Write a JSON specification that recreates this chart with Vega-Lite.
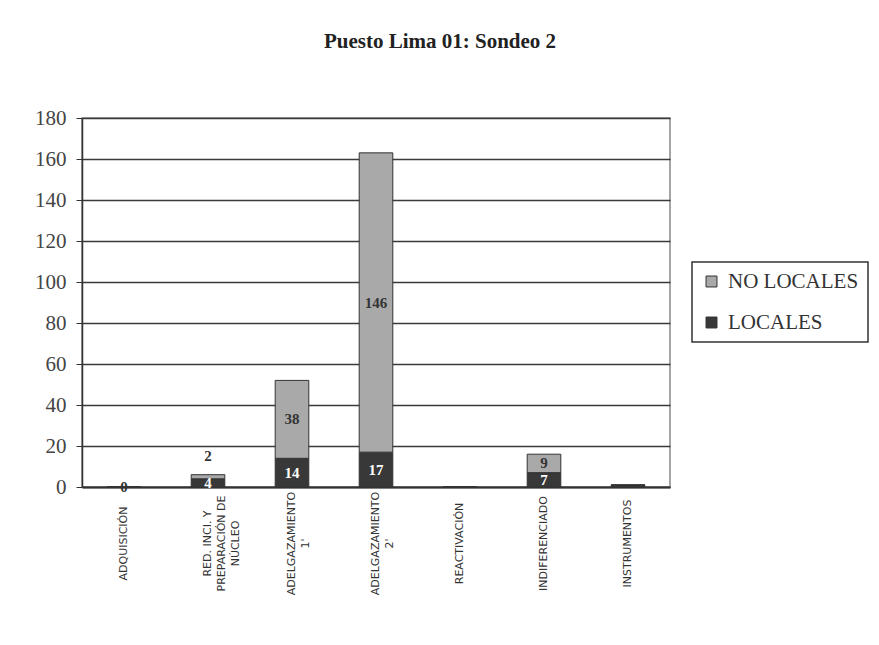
{
  "$schema": "https://vega.github.io/schema/vega-lite/v6.json",
  "autosize": "none",
  "width": 588,
  "height": 369,
  "padding": {"left": 82, "top": 118, "right": 209, "bottom": 158},
  "background": "white",
  "title": {
    "text": "Puesto Lima 01: Sondeo 2",
    "font": "Liberation Serif",
    "fontSize": 21,
    "fontWeight": "bold",
    "color": "#222",
    "anchor": "middle",
    "dx": 64,
    "offset": 55
  },
  "data": {
    "values": [
      {"cat": "ADQUISICIÓN", "serie": "LOCALES", "ord": 1, "value": 0, "label": "0"},
      {"cat": "ADQUISICIÓN", "serie": "NO LOCALES", "ord": 2, "value": 0, "label": ""},
      {"cat": "RED. INCI. Y|PREPARACIÓN DE|NÚCLEO", "serie": "LOCALES", "ord": 1, "value": 4, "label": "4"},
      {"cat": "RED. INCI. Y|PREPARACIÓN DE|NÚCLEO", "serie": "NO LOCALES", "ord": 2, "value": 2, "label": "2"},
      {"cat": "ADELGAZAMIENTO|1'", "serie": "LOCALES", "ord": 1, "value": 14, "label": "14"},
      {"cat": "ADELGAZAMIENTO|1'", "serie": "NO LOCALES", "ord": 2, "value": 38, "label": "38"},
      {"cat": "ADELGAZAMIENTO|2'", "serie": "LOCALES", "ord": 1, "value": 17, "label": "17"},
      {"cat": "ADELGAZAMIENTO|2'", "serie": "NO LOCALES", "ord": 2, "value": 146, "label": "146"},
      {"cat": "REACTIVACIÓN", "serie": "LOCALES", "ord": 1, "value": 0, "label": ""},
      {"cat": "REACTIVACIÓN", "serie": "NO LOCALES", "ord": 2, "value": 0, "label": ""},
      {"cat": "INDIFERENCIADO", "serie": "LOCALES", "ord": 1, "value": 7, "label": "7"},
      {"cat": "INDIFERENCIADO", "serie": "NO LOCALES", "ord": 2, "value": 9, "label": "9"},
      {"cat": "INSTRUMENTOS", "serie": "LOCALES", "ord": 1, "value": 1, "label": ""},
      {"cat": "INSTRUMENTOS", "serie": "NO LOCALES", "ord": 2, "value": 0, "label": ""}
    ]
  },
  "transform": [
    {"stack": "value", "groupby": ["cat"], "sort": [{"field": "ord"}], "as": ["y0", "y1"]},
    {"calculate": "datum.value > 0 && datum.value < 3 ? datum.y1 + 9 : (datum.y0 + datum.y1) / 2", "as": "ymid"}
  ],
  "encoding": {
    "x": {
      "field": "cat",
      "type": "nominal",
      "sort": null,
      "scale": {"paddingInner": 0.6, "paddingOuter": 0.3},
      "axis": {
        "title": null,
        "labelAngle": -90,
        "labelAlign": "center",
        "labelBaseline": "middle",
        "labelPadding": 56,
        "labelExpr": "split(datum.label, '|')",
        "labelLineHeight": 14,
        "labelFont": "DejaVu Sans",
        "labelFontSize": 11,
        "labelColor": "#333",
        "labelOverlap": false,
        "ticks": false,
        "domainColor": "#333",
        "domainWidth": 2
      }
    }
  },
  "layer": [
    {
      "mark": {"type": "bar", "stroke": "#333", "strokeWidth": 1},
      "encoding": {
        "y": {
          "field": "y0",
          "type": "quantitative",
          "scale": {"domain": [0, 180]},
          "axis": {
            "title": null,
            "values": [0, 20, 40, 60, 80, 100, 120, 140, 160, 180],
            "labelFont": "Liberation Serif",
            "labelFontSize": 21,
            "labelColor": "#444",
            "labelPadding": 10,
            "tickSize": 6,
            "tickColor": "#333",
            "domainColor": "#333",
            "domainWidth": 1.5,
            "grid": true,
            "gridColor": "#3a3a3a",
            "gridWidth": 1.3
          }
        },
        "y2": {"field": "y1"},
        "color": {
          "field": "serie",
          "type": "nominal",
          "scale": {"domain": ["NO LOCALES", "LOCALES"], "range": ["#a9a9a9", "#383838"]},
          "legend": {
            "title": null,
            "orient": "none",
            "legendX": 610,
            "legendY": 144,
            "direction": "vertical",
            "labelFont": "Liberation Serif",
            "labelFontSize": 21,
            "labelColor": "#333",
            "symbolType": "square",
            "symbolSize": 120,
            "symbolStrokeColor": "#333",
            "symbolStrokeWidth": 1,
            "rowPadding": 19,
            "labelOffset": 6,
            "padding": 9,
            "strokeColor": "#333",
            "fillColor": "white"
          }
        }
      }
    },
    {
      "mark": {"type": "text", "font": "Liberation Serif", "fontSize": 15, "fontWeight": "bold", "baseline": "middle"},
      "encoding": {
        "y": {"field": "ymid", "type": "quantitative"},
        "text": {"field": "label"},
        "color": {
          "condition": {"test": "datum.serie == 'LOCALES' && datum.value >= 3", "value": "white"},
          "value": "#333"
        }
      }
    }
  ],
  "config": {
    "view": {"stroke": "#888", "strokeWidth": 1.5},
    "legend": {"strokeWidth": 1.5}
  }
}
